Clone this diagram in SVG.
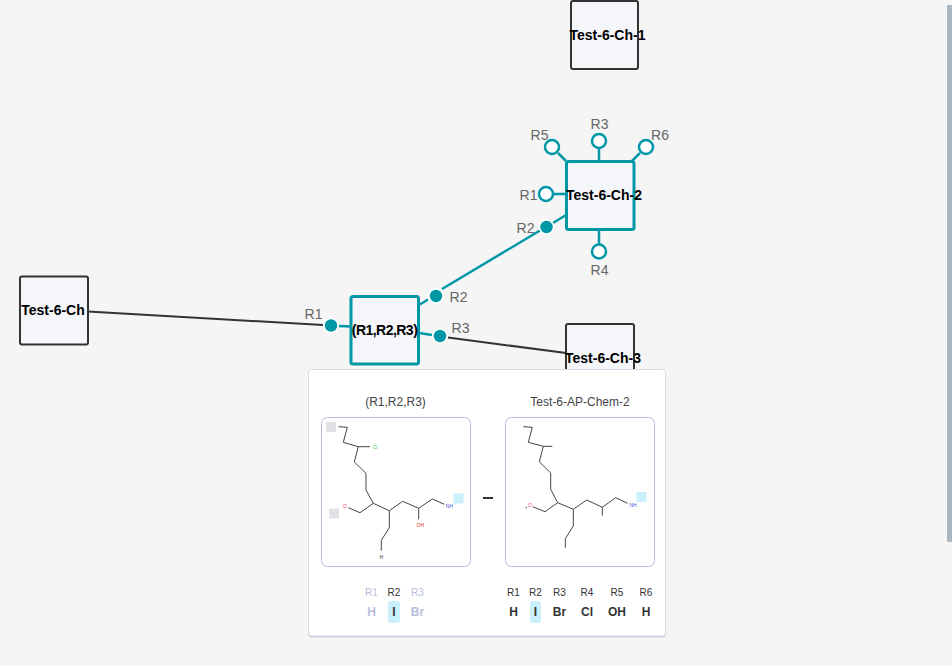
<svg xmlns="http://www.w3.org/2000/svg" width="952" height="666" viewBox="0 0 952 666">
<style>
text{font-family:"Liberation Sans",Arial,sans-serif;opacity:.999}
.node{fill:#f5f6fa;stroke:#333;stroke-width:2}
.sel{fill:#f5f6fa;stroke:#0097a7;stroke-width:3}
.nl{font-size:14px;font-weight:700;fill:#000;text-anchor:middle}
.r{font-size:14px;fill:#666;text-anchor:middle}
.e{stroke:#333;stroke-width:2;fill:none}
.t{stroke:#0097a7;stroke-width:2.500;fill:none}
.open{fill:#fff;stroke:#0097a7;stroke-width:2.500}
.on{fill:#0097a7;stroke:#fff;stroke-width:1.500}
.card{fill:none;stroke:#b4bcd9;stroke-width:1}
.b{stroke:#444;stroke-width:1;fill:none}
.title{font-size:12px;fill:#444;text-anchor:middle}
.k{font-size:10px;text-anchor:middle;fill:#333}
.v{font-size:12px;font-weight:700;text-anchor:middle;fill:#333}
.kd{fill:#b9bedd}
.a{font-size:5px;text-anchor:middle}
</style>
<rect width="952" height="666" fill="#f5f5f5"/>
<rect x="947" y="5" width="5" height="537" rx="1" fill="#a9b5bf"/>
<g id="connectors">
<path class="e" d="M88 311.500L323 325"/>
<path class="t" d="M339 326L351 326.500"/>
<path class="t" d="M419 305L428 299.500M442 289L540 230.500M553 223L566 215"/>
<path class="t" d="M419 333L432 335"/>
<path class="e" d="M448 337.500L566 353"/>
<path class="t" d="M558 153L566 161M599 148V161M640 153L632 161M553 194H566M599 230V244"/>
</g>
<g id="node-ch"><rect class="node" x="20" y="276.500" width="68" height="68" rx="2"/><text class="nl" x="53" y="315">Test-6-Ch</text></g>
<g id="node-ch-1"><rect class="node" x="571" y="1" width="67" height="68" rx="2"/><text class="nl" x="607.500" y="40">Test-6-Ch-1</text></g>
<g id="node-ch-3"><rect class="node" x="566" y="324" width="68" height="68" rx="2"/><text class="nl" x="603" y="363">Test-6-Ch-3</text></g>
<g id="node-r123"><rect class="sel" x="351" y="296.500" width="67.500" height="67.500" rx="2"/><text class="nl" x="384.800" y="335" textLength="66" lengthAdjust="spacing">(R1,R2,R3)</text></g>
<g id="node-ch-2"><rect class="sel" x="566.500" y="161.500" width="67.500" height="68" rx="2"/><text class="nl" x="604" y="200">Test-6-Ch-2</text></g>
<g id="ports">
<circle class="on" cx="331" cy="325.500" r="7"/><text class="r" x="313.500" y="319">R1</text>
<circle class="on" cx="436" cy="296" r="7"/><text class="r" x="458.500" y="302">R2</text>
<circle class="on" cx="440" cy="336" r="7"/><text class="r" x="460.500" y="333">R3</text>
<circle class="on" cx="546.500" cy="227" r="7"/><text class="r" x="525.500" y="233">R2</text>
<circle class="open" cx="546" cy="194" r="7"/><text class="r" x="528.500" y="200">R1</text>
<circle class="open" cx="552" cy="147" r="7"/><text class="r" x="539.500" y="140">R5</text>
<circle class="open" cx="599" cy="141" r="7"/><text class="r" x="599.500" y="129">R3</text>
<circle class="open" cx="646" cy="147" r="7"/><text class="r" x="660" y="140">R6</text>
<circle class="open" cx="599" cy="251.500" r="7"/><text class="r" x="599.500" y="275">R4</text>
</g>
<g id="panel">
<rect x="308.500" y="370.500" width="357" height="267" rx="3" fill="#c8cfe0"/>
<rect x="308.500" y="369.500" width="357" height="266.500" rx="3" fill="#fff" stroke="#d5dae6"/>
<text class="title" x="395.500" y="406">(R1,R2,R3)</text>
<text class="title" x="580" y="406">Test-6-AP-Chem-2</text>
<rect class="card" x="321.500" y="417.500" width="149" height="149" rx="6"/>
<rect class="card" x="505.500" y="417.500" width="149" height="149" rx="6"/>
<g id="mol-left">
<rect x="326" y="422" width="10" height="10" fill="#e0e2e8"/>
<rect x="329" y="508.500" width="10" height="10" fill="#e0e2e8"/>
<rect x="453.500" y="493.500" width="10" height="10" fill="#c9f0fb"/>
<path class="b" d="M338.500 426.700L347.300 427.300L343.300 442.300L358.300 446.700L354.300 462L366 473.300V490L373.300 503.300L389.300 510.700L402.700 501.300L418.700 508.300L432.300 499L444.300 504.300M358.300 446.700H370M373.300 503.300L360 512.700L348.300 507.700M389.300 510.700V527.700L381.300 540.300V550.700M418.700 508.300V519.300"/>
<text class="a" x="375" y="448.500" fill="#4fc94f">Cl</text>
<text class="a" x="345" y="507.500" fill="#e85050">O</text>
<text class="a" x="420.300" y="526.800" fill="#d03030">OH</text>
<text class="a" x="449.300" y="507.800" fill="#3a5fd8">NH</text>
<text class="a" x="381.300" y="558.500" fill="#333">H</text>
</g>
<g id="mol-right">
<rect x="636.500" y="492" width="10" height="10" fill="#c9f0fb"/>
<path class="b" d="M523.300 426.700L532.300 427.300L528.300 442.300L543.300 446.300L539.300 461.700L550.700 473V489.300L557.700 502.700L573.300 509.300L586.700 500L602.300 507.300L615.700 497.700L627.700 503.300M543.300 446.300H552.300M557.700 502.700L545 511.700L532.700 506.700M573.300 509.300V526L565.300 538.700V547.700M602.300 507.300V515.700M525.500 508L527 507"/>
<text class="a" x="530" y="507" fill="#e85050">O</text>
<text class="a" x="633" y="506.800" fill="#3a5fd8">NH</text>
</g>
<rect x="483" y="497" width="10" height="2" fill="#333"/>
<rect x="388" y="601" width="12" height="22" rx="3" fill="#c9f0fb"/>
<rect x="530" y="601" width="11" height="22" rx="3" fill="#c9f0fb"/>
<g id="table-left">
<text class="k kd" x="371.500" y="596">R1</text><text class="k" x="394" y="596">R2</text><text class="k kd" x="417.500" y="596">R3</text>
<text class="v kd" x="371.500" y="616">H</text><text class="v" x="394" y="616">I</text><text class="v kd" x="417.500" y="616">Br</text>
</g>
<g id="table-right">
<text class="k" x="513.500" y="596">R1</text><text class="k" x="535.500" y="596">R2</text><text class="k" x="559.500" y="596">R3</text><text class="k" x="587" y="596">R4</text><text class="k" x="617" y="596">R5</text><text class="k" x="646" y="596">R6</text>
<text class="v" x="513.500" y="616">H</text><text class="v" x="535.500" y="616">I</text><text class="v" x="559.500" y="616">Br</text><text class="v" x="587" y="616">Cl</text><text class="v" x="617" y="616">OH</text><text class="v" x="646" y="616">H</text>
</g>
</g>
</svg>
